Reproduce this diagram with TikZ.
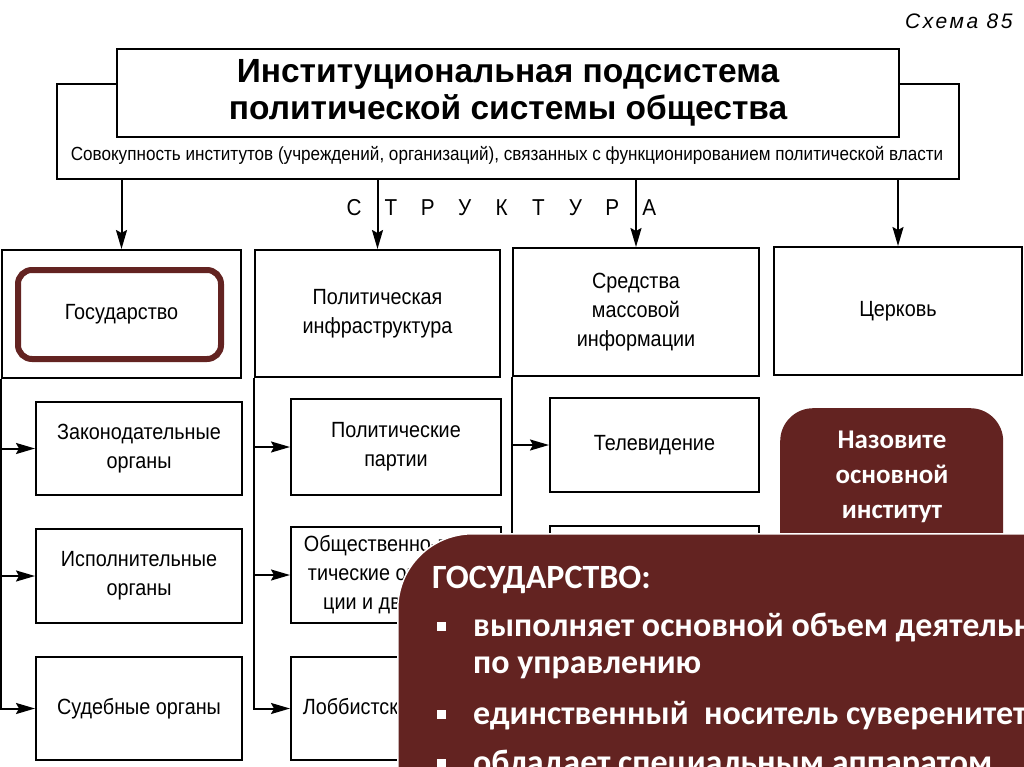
\documentclass[tikz,border=0pt]{standalone}
\usepackage{fontspec}
\setmainfont{Liberation Sans}
\newfontfamily\scanfont[FakeStretch=0.9]{Liberation Sans}
\newfontfamily\schemafont[LetterSpace=12]{Liberation Sans}
\newfontfamily\slidefont{Carlito}
\usetikzlibrary{arrows.meta}
\definecolor{slidered}{RGB}{99,35,33}

\begin{document}
\begin{tikzpicture}[x=1pt, y=-1pt,
  box/.style={draw, line width=2pt, fill=white, align=center, inner sep=0pt,
    font=\scanfont\fontsize{22}{29}\selectfont},
  arr/.style={line width=2pt, -{Stealth[length=19pt, width=11pt, inset=3pt]}},
  slidetext/.style={text=white, anchor=base west, inner sep=0pt,
    font=\slidefont\bfseries\fontsize{34}{37}\selectfont}]
  \useasboundingbox (0,0) rectangle (1024,767);
  \clip (0,0) rectangle (1024,767);
  \fill[white] (0,0) rectangle (1024,767);
  % Scheme number
  \node[font=\schemafont\itshape\fontsize{21}{21}\selectfont, anchor=east] (scheme) at (1016,21) {Схема 85};
  % Title and description
  \node[box, minimum width=902, minimum height=95] (desc) at (508,131.5) {};
  \node[font=\scanfont\fontsize{19}{19}\selectfont] (desctext) at (507,155)
    {Совокупность институтов (учреждений, организаций), связанных с функционированием политической власти};
  \node[box, minimum width=782, minimum height=88, font=\bfseries\fontsize{33.5}{37}\selectfont] (title) at (508,93)
    {Институциональная подсистема\\политической системы общества};
  % Structure
  \foreach \ch [count=\i from 0] in {С,Т,Р,У,К,Т,У,Р,А}
    \node[font=\scanfont\fontsize{23}{23}\selectfont] (s\i) at (354+36.9*\i,208) {\ch};
  % Columns
  \node[box, minimum width=239, minimum height=128] (state) at (121.5,314) {Государство};
  \node[box, minimum width=245, minimum height=127] (infra) at (377.5,313.5) {Политическая\\инфраструктура};
  \node[box, minimum width=246, minimum height=128] (media) at (636,312) {Средства\\массовой\\информации};
  \node[box, minimum width=248, minimum height=128] (church) at (898,311) {Церковь};
  \foreach \c in {state, infra, media, church}
    \draw[arr] (desc.south -| \c.north) -- (\c.north);
  % State bodies
  \node[box, minimum width=206, minimum height=93] (legis) at (139,448.5) {Законодательные\\органы};
  \node[box, minimum width=206, minimum height=94] (exec) at (139,576) {Исполнительные\\органы};
  \node[box, minimum width=206, minimum height=103] (court) at (139,708.5) {Судебные органы};
  \draw[arr] (state.south west) |- (court.west);
  \foreach \b in {legis, exec}
    \draw[arr] (\b.west -| state.south west) -- (\b.west);
  % Infrastructure
  \node[box, minimum width=210, minimum height=96] (parties) at (396,447) {Политические\\партии};
  \node[box, minimum width=210, minimum height=96] (movements) at (396,575) {Общественно-поли-\\тические организа-\\ции и движения};
  \node[box, minimum width=210, minimum height=103] (lobby) at (396,708.5) {Лоббистские группы};
  \draw[arr] (infra.south west) |- (lobby.west);
  \foreach \b in {parties, movements}
    \draw[arr] (\b.west -| infra.south west) -- (\b.west);
  % Mass media
  \node[box, minimum width=209, minimum height=94] (tv) at (654.5,445) {Телевидение};
  \node[box, minimum width=209, minimum height=94] (press) at (654.5,573) {};
  \draw[arr] (media.south west) |- (press.west);
  \draw[arr] (tv.west -| media.south west) -- (tv.west);
  % Slide marks
  \node[draw=slidered, line width=6pt, rounded corners=14pt, minimum width=203, minimum height=89] (statemark) at (119.5,314.5) {};
  \node[fill=slidered, rounded corners=33pt, minimum width=223, minimum height=200, anchor=north west] (quiz) at (780,408) {};
  \node[text=white, align=center, font=\slidefont\bfseries\fontsize{27}{35}\selectfont] (quiztext) at (892,477)
    {Назовите\\основной\\институт};
  \node[fill=slidered, draw=white, line width=1.5pt, rounded corners=75pt, minimum width=800, minimum height=400, anchor=north west] (answer) at (397,533) {};
  \node[slidetext] (head) at (432,588) {ГОСУДАРСТВО:};
  \node[slidetext] (item1) at (473,636) {выполняет основной объем деятельности};
  \node[slidetext] (item1b) at (473,673) {по управлению};
  \node[slidetext] (item2) at (473,724) {единственный\ \ носитель суверенитета};
  \node[slidetext] (item3) at (473,773) {обладает специальным аппаратом};
  \foreach \b in {item1, item2, item3}
    \node[fill=white, minimum size=9pt, inner sep=0pt] (dot\b) at ([xshift=-32pt, yshift=10pt]\b.base west) {};
\end{tikzpicture}
\end{document}
